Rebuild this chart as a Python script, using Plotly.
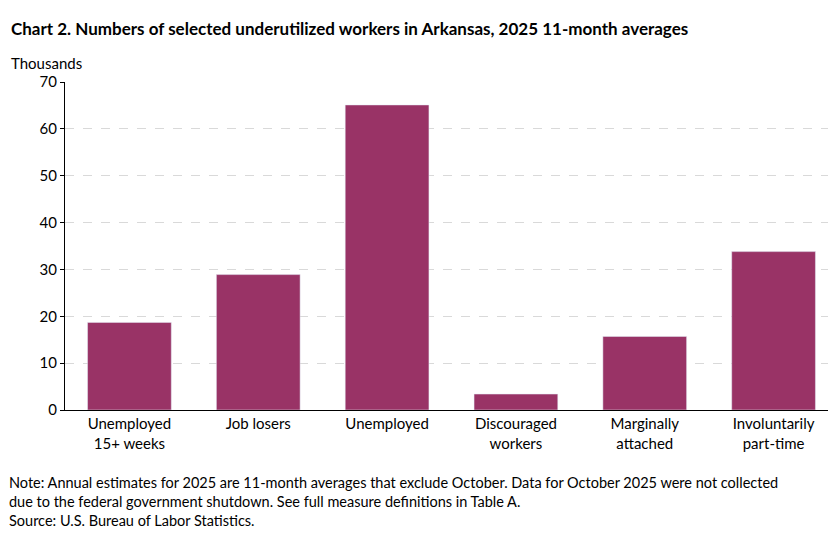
import plotly.graph_objects as go

categories = ["Unemployed<br>15+ weeks", "Job losers", "Unemployed",
              "Discouraged<br>workers", "Marginally<br>attached", "Involuntarily<br>part-time"]
values = [18.7, 28.9, 65.1, 3.4, 15.7, 33.8]
y_ticks = [0, 10, 20, 30, 40, 50, 60, 70]

font = "Lato, Carlito, Arial"

fig = go.Figure(go.Bar(x=categories, y=values, marker_color="#993366", width=0.65))

fig.update_layout(
    width=836, height=538,
    margin=dict(l=57, r=6, t=74, b=136),
    plot_bgcolor="white", paper_bgcolor="white",
    font=dict(family=font, size=15, color="black"),
    showlegend=False,
    xaxis=dict(showline=True, linecolor="black", ticks="", tickfont=dict(size=15)),
    yaxis=dict(range=[0, 70], tickvals=y_ticks, showline=True, linecolor="black",
               ticks="outside", ticklen=4, tickcolor="black",
               gridcolor="#d9d9d9", griddash="dash", zeroline=False),
    annotations=[
        dict(text="<b>Chart 2. Numbers of selected underutilized workers in Arkansas, 2025 11-month averages</b>",
             x=0, y=1, xref="paper", yref="paper", xanchor="left", yanchor="top",
             xshift=-56, yshift=66, showarrow=False, font=dict(size=17)),
        dict(text="Thousands", x=0, y=1, xref="paper", yref="paper", xanchor="left",
             yanchor="bottom", xshift=-56, yshift=8, showarrow=False),
        dict(text="Note: Annual estimates for 2025 are 11-month averages that exclude October. Data for October 2025 were not collected<br>"
                  "due to the federal government shutdown. See full measure definitions in Table A.<br>"
                  "Source: U.S. Bureau of Labor Statistics.",
             x=0, y=0, xref="paper", yref="paper", xanchor="left", yanchor="top",
             xshift=-58, yshift=-62, align="left", showarrow=False, font=dict(size=14.5)),
    ],
)

fig.write_html("out.html")
